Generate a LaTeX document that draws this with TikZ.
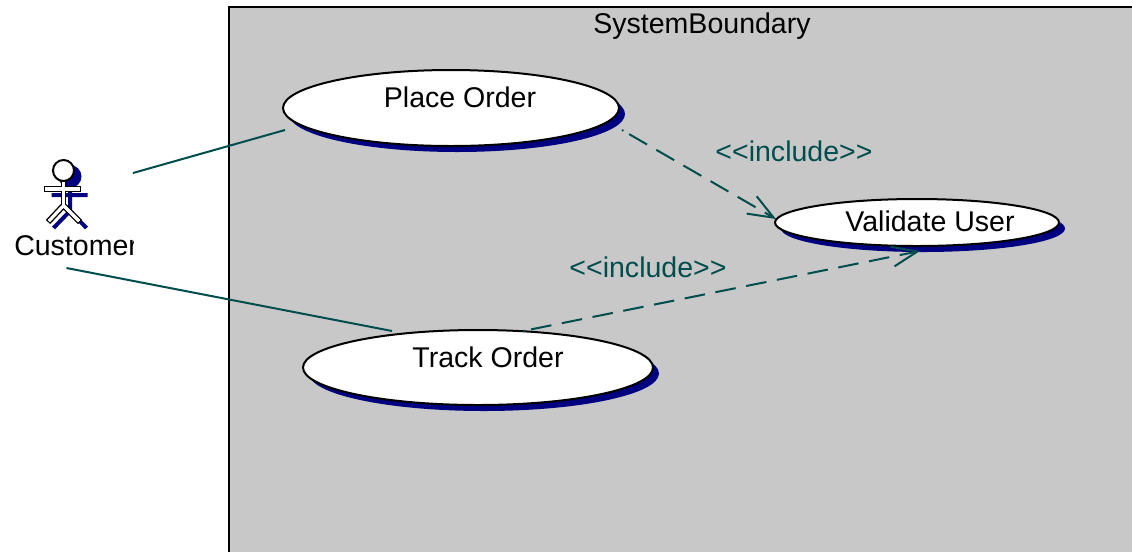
\documentclass[tikz,border=0pt]{standalone}
\usepackage{fontspec}
\setmainfont{Liberation Sans}
\usetikzlibrary{shapes.geometric,arrows.meta,calc}
\definecolor{teal}{HTML}{004D4D}
\definecolor{boxgrey}{HTML}{C8C8C8}
\definecolor{shadowblue}{HTML}{000080}
\tikzset{
  x=0.75pt,y=-0.75pt,
  usecase/.style={ellipse,draw=black,fill=white,line width=1.5pt,inner sep=0pt,outer sep=0pt},
  caseshadow/.style={ellipse,fill=shadowblue,draw=none,inner sep=0pt,outer sep=0pt},
  label/.style={anchor=base,inner sep=0pt,font=\fontsize{21.4}{24}\selectfont,text=black},
  stereo/.style={anchor=base,inner sep=0pt,font=\fontsize{21.4}{24}\selectfont,text=teal},
  assoc/.style={draw=teal,line width=1.5pt},
  dep/.style={draw=teal,line width=1.5pt,dash pattern=on 1.2pt off 5pt on 15.5pt off 8pt on 15.5pt off 8pt on 15.5pt off 8pt on 15.5pt off 8pt on 15.5pt off 8pt on 15.5pt off 8pt on 15.5pt off 8pt on 15.5pt off 8pt on 15.5pt off 8pt on 15.5pt off 8pt on 15.5pt off 8pt on 15.5pt off 8pt on 15.5pt off 8pt,-{Straight Barb[length=19pt,width=15pt,line width=1.5pt]}},
}
\begin{document}
\begin{tikzpicture}
\useasboundingbox (0,0) rectangle (1132,551);
\fill[white] (0,0) rectangle (1132,551);
% boundary
\draw[fill=boxgrey,draw=black,line width=1.5pt] (229,7) -- (1140,7) -- (1140,560) -- (229,560) -- cycle;
\node[label] (systext) at (702,33) {SystemBoundary};
% shadows
\node[caseshadow,minimum width=252pt,minimum height=57pt] (placeshadow) at (457,114) {};
\node[caseshadow,minimum width=213pt,minimum height=35.25pt] (validshadow) at (923,228.5) {};
\node[caseshadow,minimum width=262.5pt,minimum height=56.25pt] (trackshadow) at (484,373.5) {};
% use cases
\node[usecase,minimum width=252pt,minimum height=57pt] (place) at (451,108) {};
\node[usecase,minimum width=213pt,minimum height=35.25pt] (valid) at (917,222.5) {};
\node[usecase,minimum width=262.5pt,minimum height=56.25pt] (track) at (478,367.5) {};
\node[label] (placetext) at (460,107) {Place Order};
\node[label] (validtext) at (930,231) {Validate User};
\node[label] (tracktext) at (488,367) {Track Order};
% actor frame (invisible)
\node[inner sep=0pt,outer sep=0pt,minimum width=99.75pt,minimum height=71.25pt] (actor) at (66.5,220.5) {};
% actor figure: shadow
\begin{scope}[shift={(6.5,6)},draw=shadowblue,line width=3pt,line join=miter]
  \fill[shadowblue] (63.5,170.5) circle[radius=11.5];
  \draw (63.5,181) -- (63.5,205) (45,189) -- (81,189) (47,222) -- (63.5,205) -- (80,222);
\end{scope}
% actor figure
\begin{scope}[draw=black,line join=miter]
  \draw[line width=1.5pt,fill=white] (63.5,170.5) circle[radius=10.5];
  \draw[line width=4.5pt] (48,222) -- (63.5,205.5) -- (80,222);
  \draw[line width=3.6pt] (63.5,181) -- (63.5,205);
  \draw[line width=4.5pt] (44,189) -- (81,189);
  \draw[white,line width=2.4pt,shorten >=0.9pt,shorten <=0.9pt] (48,222) -- (63.5,205.5) -- (80,222);
  \draw[white,line width=1.6pt] (63.5,182) -- (63.5,206);
  \draw[white,line width=2.4pt,shorten >=0.9pt,shorten <=0.9pt] (44,189) -- (81,189);
\end{scope}
\begin{scope}
  \clip (0,235) rectangle (133,270);
  \node[label,anchor=base west] (customer) at (14,255) {Customer};
\end{scope}
% connectors
\coordinate (placeend) at ($(place.west)+(2,22)$);
\coordinate (trackend) at ($(track.north)+(-86,1)$);
\draw[assoc] (actor.north east) -- (placeend);
\draw[assoc] (actor.south) -- (trackend);
\coordinate (depastart) at ($(place.east)+(3,22)$);
\coordinate (depaend) at ($(valid.west)+(1,-3.5)$);
\coordinate (depbstart) at ($(track.north)+(45,1)$);
\coordinate (depbend) at ($(valid.south)+(3,5)$);
\draw[dep] (depastart) -- (depaend);
\draw[dep] (depbstart) -- (depbend);
\node[stereo] (inca) at (794,161) {<{}<include>{}>};
\node[stereo] (incb) at (648,277) {<{}<include>{}>};
\end{tikzpicture}
\end{document}
